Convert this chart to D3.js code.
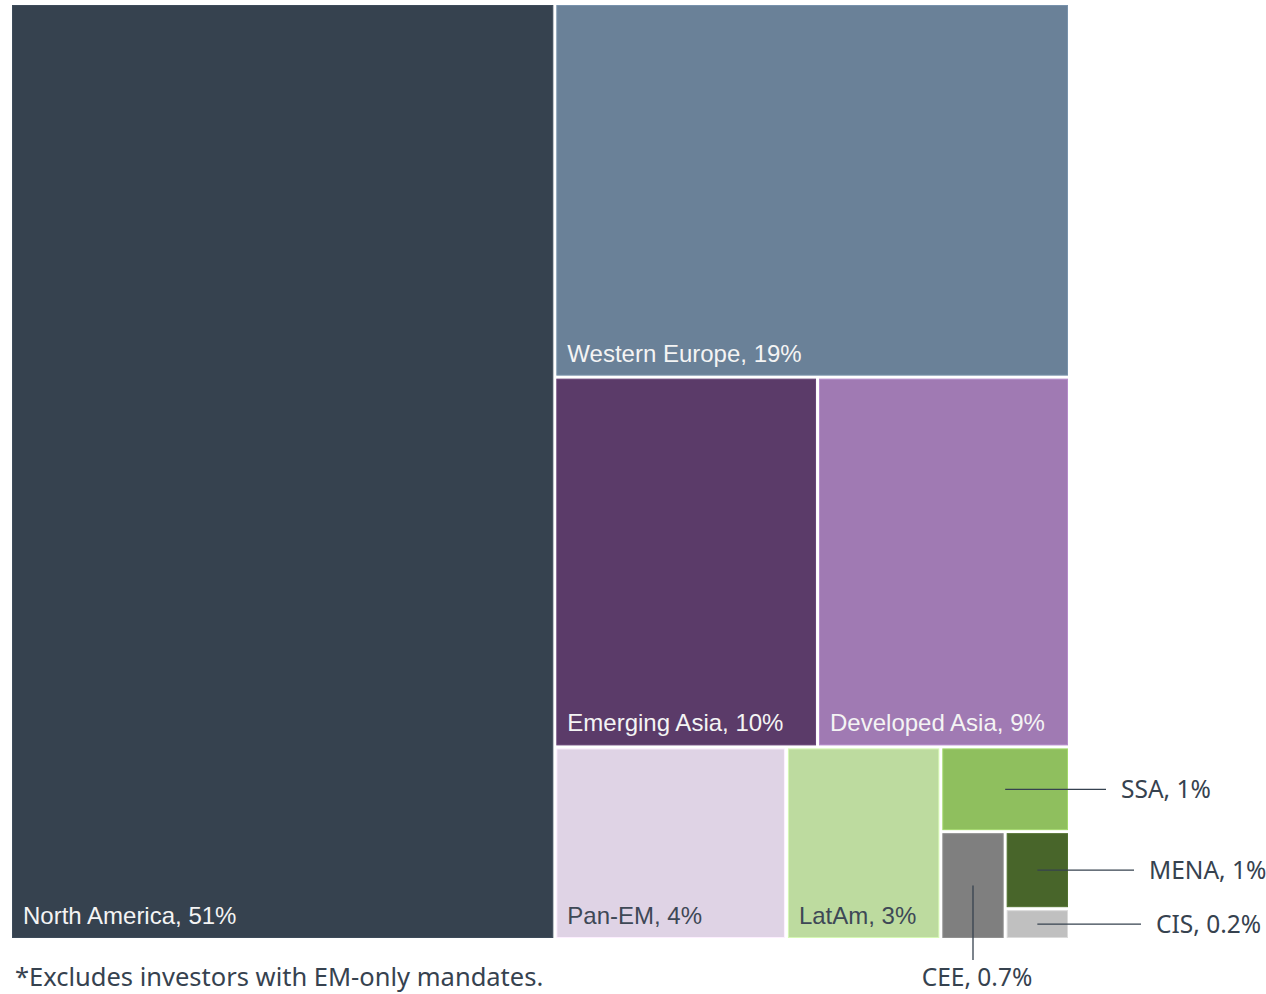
<!DOCTYPE html>
<html>
<head>
<meta charset="utf-8">
<script src="https://cdn.jsdelivr.net/npm/d3@7"></script>
<style>
  html, body { margin: 0; padding: 0; background: #ffffff; }
  svg { display: block; }
</style>
</head>
<body>
<svg id="chart" width="1266" height="994"></svg>
<script>
// Investor allocation by target region (share of total, %)
const regions = ["North America", "Western Europe", "Emerging Asia", "Developed Asia",
                 "Pan-EM", "LatAm", "SSA", "CEE", "MENA", "CIS"];
const shares  = [51.4, 19.4, 9.8, 9.4, 4.5, 3.0, 1.1, 0.7, 0.5, 0.2];
const shareLabels = ["51%", "19%", "10%", "9%", "4%", "3%", "1%", "0.7%", "1%", "0.2%"];
const fills = ["#36424f", "#6a8198", "#5b3b69", "#a07ab3", "#dfd3e5",
               "#bddb9f", "#8fbf5e", "#7f7f7f", "#48652a", "#c0c0c0"];
const footnote = "*Excludes investors with EM-only mandates.";

// Nesting used to arrange the blocks (slice / dice alternate by depth)
const groups = {
  name: "All",
  children: [
    { leaf: 0 },
    { name: "Rest", children: [
      { leaf: 1 },
      { name: "Asia", children: [{ leaf: 2 }, { leaf: 3 }] },
      { name: "Other", children: [
        { leaf: 4 },
        { leaf: 5 },
        { name: "Small", children: [
          { leaf: 6 },
          { name: "Lower", children: [
            { leaf: 7 },
            { name: "Tail", children: [{ leaf: 8 }, { leaf: 9 }] }
          ]}
        ]}
      ]}
    ]}
  ]
};

const svg = d3.select("#chart");
const W = 1056, H = 933, X0 = 12, Y0 = 5;

const root = d3.hierarchy(groups)
  .sum(d => d.leaf !== undefined ? shares[d.leaf] : 0);

d3.treemap()
  .tile(d3.treemapSliceDice)
  .size([W, H])
  .paddingInner(3)
  .round(false)(root);

const g = svg.append("g").attr("transform", `translate(${X0},${Y0})`);
const leaves = root.leaves();

const cell = g.selectAll("g.cell")
  .data(leaves)
  .join("g")
  .attr("class", "cell");

cell.append("rect")
  .attr("x", d => d.x0 + 0.5)
  .attr("y", d => d.y0 + 0.5)
  .attr("width", d => Math.max(0, d.x1 - d.x0 - 1))
  .attr("height", d => Math.max(0, d.y1 - d.y0 - 1))
  .attr("fill", d => fills[d.data.leaf])
  .attr("stroke", d => d3.color(fills[d.data.leaf]).brighter(0.35))
  .attr("stroke-width", 1);

// Labels inside the larger blocks
const inside = leaves.filter(d => d.data.leaf <= 5);
g.selectAll("text.inner")
  .data(inside)
  .join("text")
  .attr("class", "inner")
  .attr("x", d => d.x0 + 11)
  .attr("y", d => d.y1 - 14)
  .attr("font-family", "'Liberation Sans', Arial, sans-serif")
  .attr("font-size", 24)
  .attr("fill", d => d.data.leaf >= 4 ? "#3e4856" : "#f4f4f4")
  .text(d => `${regions[d.data.leaf]}, ${shareLabels[d.data.leaf]}`);

// Callouts for the smallest blocks
const outer = leaves.filter(d => d.data.leaf >= 6);
const ink = "#36424f";
const calloutFont = "'Noto Sans', 'Open Sans', sans-serif";
const right = root.x1;
const labelOffset = { 6: 53, 8: 81, 9: 88 };

outer.forEach(d => {
  const i = d.data.leaf;
  const cx = (d.x0 + d.x1) / 2, cy = (d.y0 + d.y1) / 2;
  if (i === 7) {
    // CEE: vertical leader down to a centred label under the chart
    g.append("line")
      .attr("x1", cx).attr("y1", cy)
      .attr("x2", cx).attr("y2", d.y1 + 22)
      .attr("stroke", ink).attr("stroke-width", 1.3);
    g.append("text")
      .attr("x", cx + 4).attr("y", d.y1 + 48)
      .attr("text-anchor", "middle")
      .attr("font-family", calloutFont).attr("font-size", 24.5)
      .attr("fill", ink)
      .text(`${regions[i]}, ${shareLabels[i]}`);
  } else {
    const lx = right + labelOffset[i];
    g.append("line")
      .attr("x1", cx).attr("y1", cy)
      .attr("x2", lx - 15).attr("y2", cy)
      .attr("stroke", ink).attr("stroke-width", 1.3);
    g.append("text")
      .attr("x", lx).attr("y", cy)
      .attr("dy", "0.36em")
      .attr("font-family", calloutFont).attr("font-size", 24.5)
      .attr("fill", ink)
      .text(`${regions[i]}, ${shareLabels[i]}`);
  }
});

svg.append("text")
  .attr("x", 15).attr("y", 986)
  .attr("font-family", calloutFont).attr("font-size", 25.5)
  .attr("fill", ink)
  .text(footnote);
</script>
</body>
</html>
